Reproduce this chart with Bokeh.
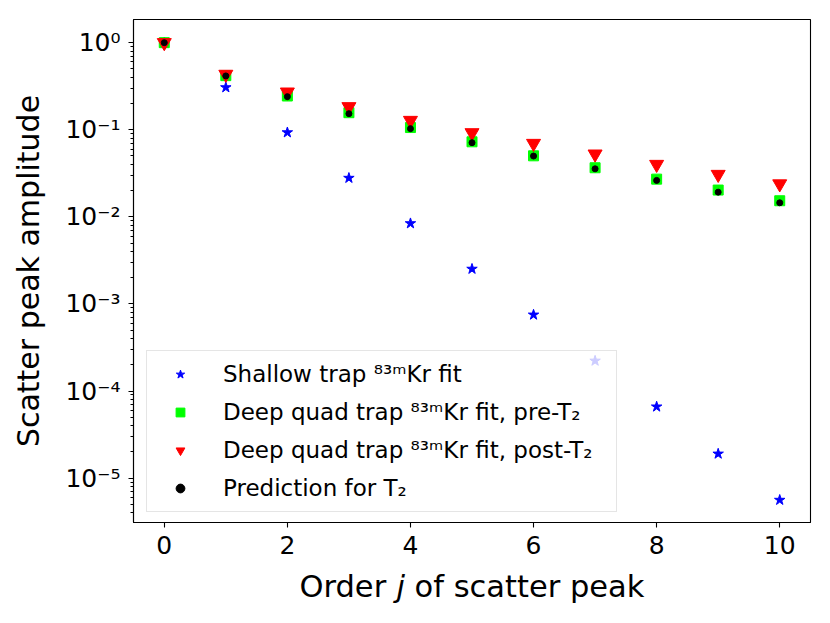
from bokeh.plotting import figure
from bokeh.layouts import column
from bokeh.models import (Range1d, FixedTicker, CustomJSTickFormatter, Legend,
                          LegendItem, ColumnDataSource)
from bokeh.embed import file_html
from bokeh.resources import INLINE
from bokeh.core.properties import value

# ---------------- data ----------------
order_j = [0, 1, 2, 3, 4, 5, 6, 7, 8, 9, 10]
shallow_fit = [1.0, 0.306, 0.093, 0.0279, 0.0084, 0.00252, 7.5e-4, 2.22e-4, 6.6e-5, 1.9e-5, 5.6e-6]
deep_pre_t2 = [1.0, 0.418, 0.244, 0.157, 0.106, 0.0727, 0.0502, 0.0366, 0.0271, 0.0203, 0.0153]
deep_post_t2 = [1.0, 0.433, 0.271, 0.184, 0.128, 0.0924, 0.0697, 0.0526, 0.040, 0.0307, 0.0239]
prediction_t2 = [1.0, 0.415, 0.240, 0.153, 0.103, 0.071, 0.0499, 0.0356, 0.0262, 0.0192, 0.0145]

series_labels = [
    "Shallow trap \u2078\u00b3\u1d50Kr fit",
    "Deep quad trap \u2078\u00b3\u1d50Kr fit, pre-T\u2082",
    "Deep quad trap \u2078\u00b3\u1d50Kr fit, post-T\u2082",
    "Prediction for T\u2082",
]
x_ticks = [0, 2, 4, 6, 8, 10]
y_ticks = [1e-5, 1e-4, 1e-3, 1e-2, 1e-1, 1e0]
y_tick_labels = ["10\u207b\u2075", "10\u207b\u2074", "10\u207b\u00b3", "10\u207b\u00b2", "10\u207b\u00b9", "10\u2070"]
y_label = "Scatter peak amplitude"
x_label_parts = ["Order", "j", "of scatter peak"]

FONT = "DejaVu Sans"
W = 830
MAIN_H = 565
LABEL_H = 58
BL, BR = 133, 20

p = figure(width=W, height=MAIN_H, y_axis_type="log",
           x_range=Range1d(-0.5, 10.5), y_range=Range1d(10 ** -5.51, 10 ** 0.266),
           output_backend="svg", toolbar_location=None,
           min_border_left=BL, min_border_right=BR, min_border_top=19, min_border_bottom=43)
p.background_fill_color = "white"
p.border_fill_color = "white"
p.outline_line_color = "black"
p.outline_line_width = 1.1
p.xgrid.visible = False
p.ygrid.visible = False

src = ColumnDataSource(dict(j=order_j, s=shallow_fit, pre=deep_pre_t2, post=deep_post_t2, pred=prediction_t2))
r1 = p.scatter("j", "s", source=src, marker="star", size=11, color="#0000ff")
r2 = p.scatter("j", "pre", source=src, marker="square", size=10, color="#00ff00")
r3 = p.scatter("j", "post", source=src, marker="inverted_triangle", size=14, color="#ff0000")
r4 = p.scatter("j", "pred", source=src, marker="circle", size=6, color="black")

# axes
for ax in (p.xaxis[0], p.yaxis[0]):
    ax.axis_line_color = "black"
    ax.axis_line_width = 1.1
    ax.major_tick_line_color = "black"
    ax.major_tick_line_width = 1.1
    ax.major_tick_out = 5
    ax.major_tick_in = 0
    ax.major_label_text_font = FONT
    ax.major_label_text_font_size = "25px"
    ax.major_label_text_color = "black"

p.xaxis.ticker = FixedTicker(ticks=x_ticks)
p.xaxis.minor_tick_line_color = None
p.xaxis.major_label_standoff = 8

minor = [k * 10.0 ** e for e in range(-7, 1) for k in range(2, 10)]
p.yaxis.ticker = FixedTicker(ticks=y_ticks, minor_ticks=minor)
p.yaxis.minor_tick_line_color = "black"
p.yaxis.minor_tick_out = 3
p.yaxis.minor_tick_in = 0
p.yaxis.major_label_standoff = 8
p.yaxis.formatter = CustomJSTickFormatter(args=dict(vals=y_ticks, labs=y_tick_labels), code="""
    let best = 0, bd = 1e9;
    for (let i = 0; i < vals.length; i++) {
        const d = Math.abs(Math.log10(vals[i]) - Math.log10(tick));
        if (d < bd) { bd = d; best = i; }
    }
    return labs[best];
""")
p.yaxis.axis_label = y_label
p.yaxis.axis_label_text_font = FONT
p.yaxis.axis_label_text_font_size = "30px"
p.yaxis.axis_label_text_font_style = "normal"
p.yaxis.axis_label_text_color = "black"
p.yaxis.axis_label_standoff = 16

legend = Legend(items=[LegendItem(label=series_labels[0], renderers=[r1]),
                       LegendItem(label=series_labels[1], renderers=[r2]),
                       LegendItem(label=series_labels[2], renderers=[r3]),
                       LegendItem(label=series_labels[3], renderers=[r4])],
                location=(13, 10))
legend.label_text_font = FONT
legend.label_text_font_size = "23px"
legend.label_text_color = "black"
legend.glyph_width = 50
legend.glyph_height = 22
legend.label_height = 30
legend.label_width = 385
legend.label_standoff = 18
legend.spacing = 8
legend.padding = 8
legend.margin = 0
legend.border_line_color = "#cccccc"
legend.border_line_width = 1
legend.background_fill_color = "white"
legend.background_fill_alpha = 0.8
p.add_layout(legend)

# ---- x-axis title strip (with italic j); x range in page pixels of the aligned frame ----
q = figure(width=W, height=LABEL_H, x_range=Range1d(BL, W - BR), y_range=Range1d(0, LABEL_H),
           output_backend="svg", toolbar_location=None,
           x_axis_location=None, y_axis_location=None,
           min_border_left=BL, min_border_right=BR, min_border_top=0, min_border_bottom=0)
q.outline_line_color = None
q.background_fill_color = "white"
q.border_fill_color = "white"
q.grid.visible = False

xl_size = 30.5
x0 = 299.0
adv_order = 2.859 * xl_size
adv_space = 0.318 * xl_size
adv_j = 0.278 * xl_size
xs = [x0, x0 + adv_order + adv_space, x0 + adv_order + adv_space + adv_j + adv_space]
styles = ["normal", "italic", "normal"]
baseline_y = 37
for txt, xx, st in zip(x_label_parts, xs, styles):
    q.text(x=[xx], y=[baseline_y], text=[txt], text_font=value(FONT),
           text_font_size=value(f"{xl_size}px"), text_font_style=value(st),
           text_color="black", text_align="left", text_baseline="alphabetic")

layout = column(p, q, spacing=0)
open("out.html", "w").write(file_html(layout, INLINE))
